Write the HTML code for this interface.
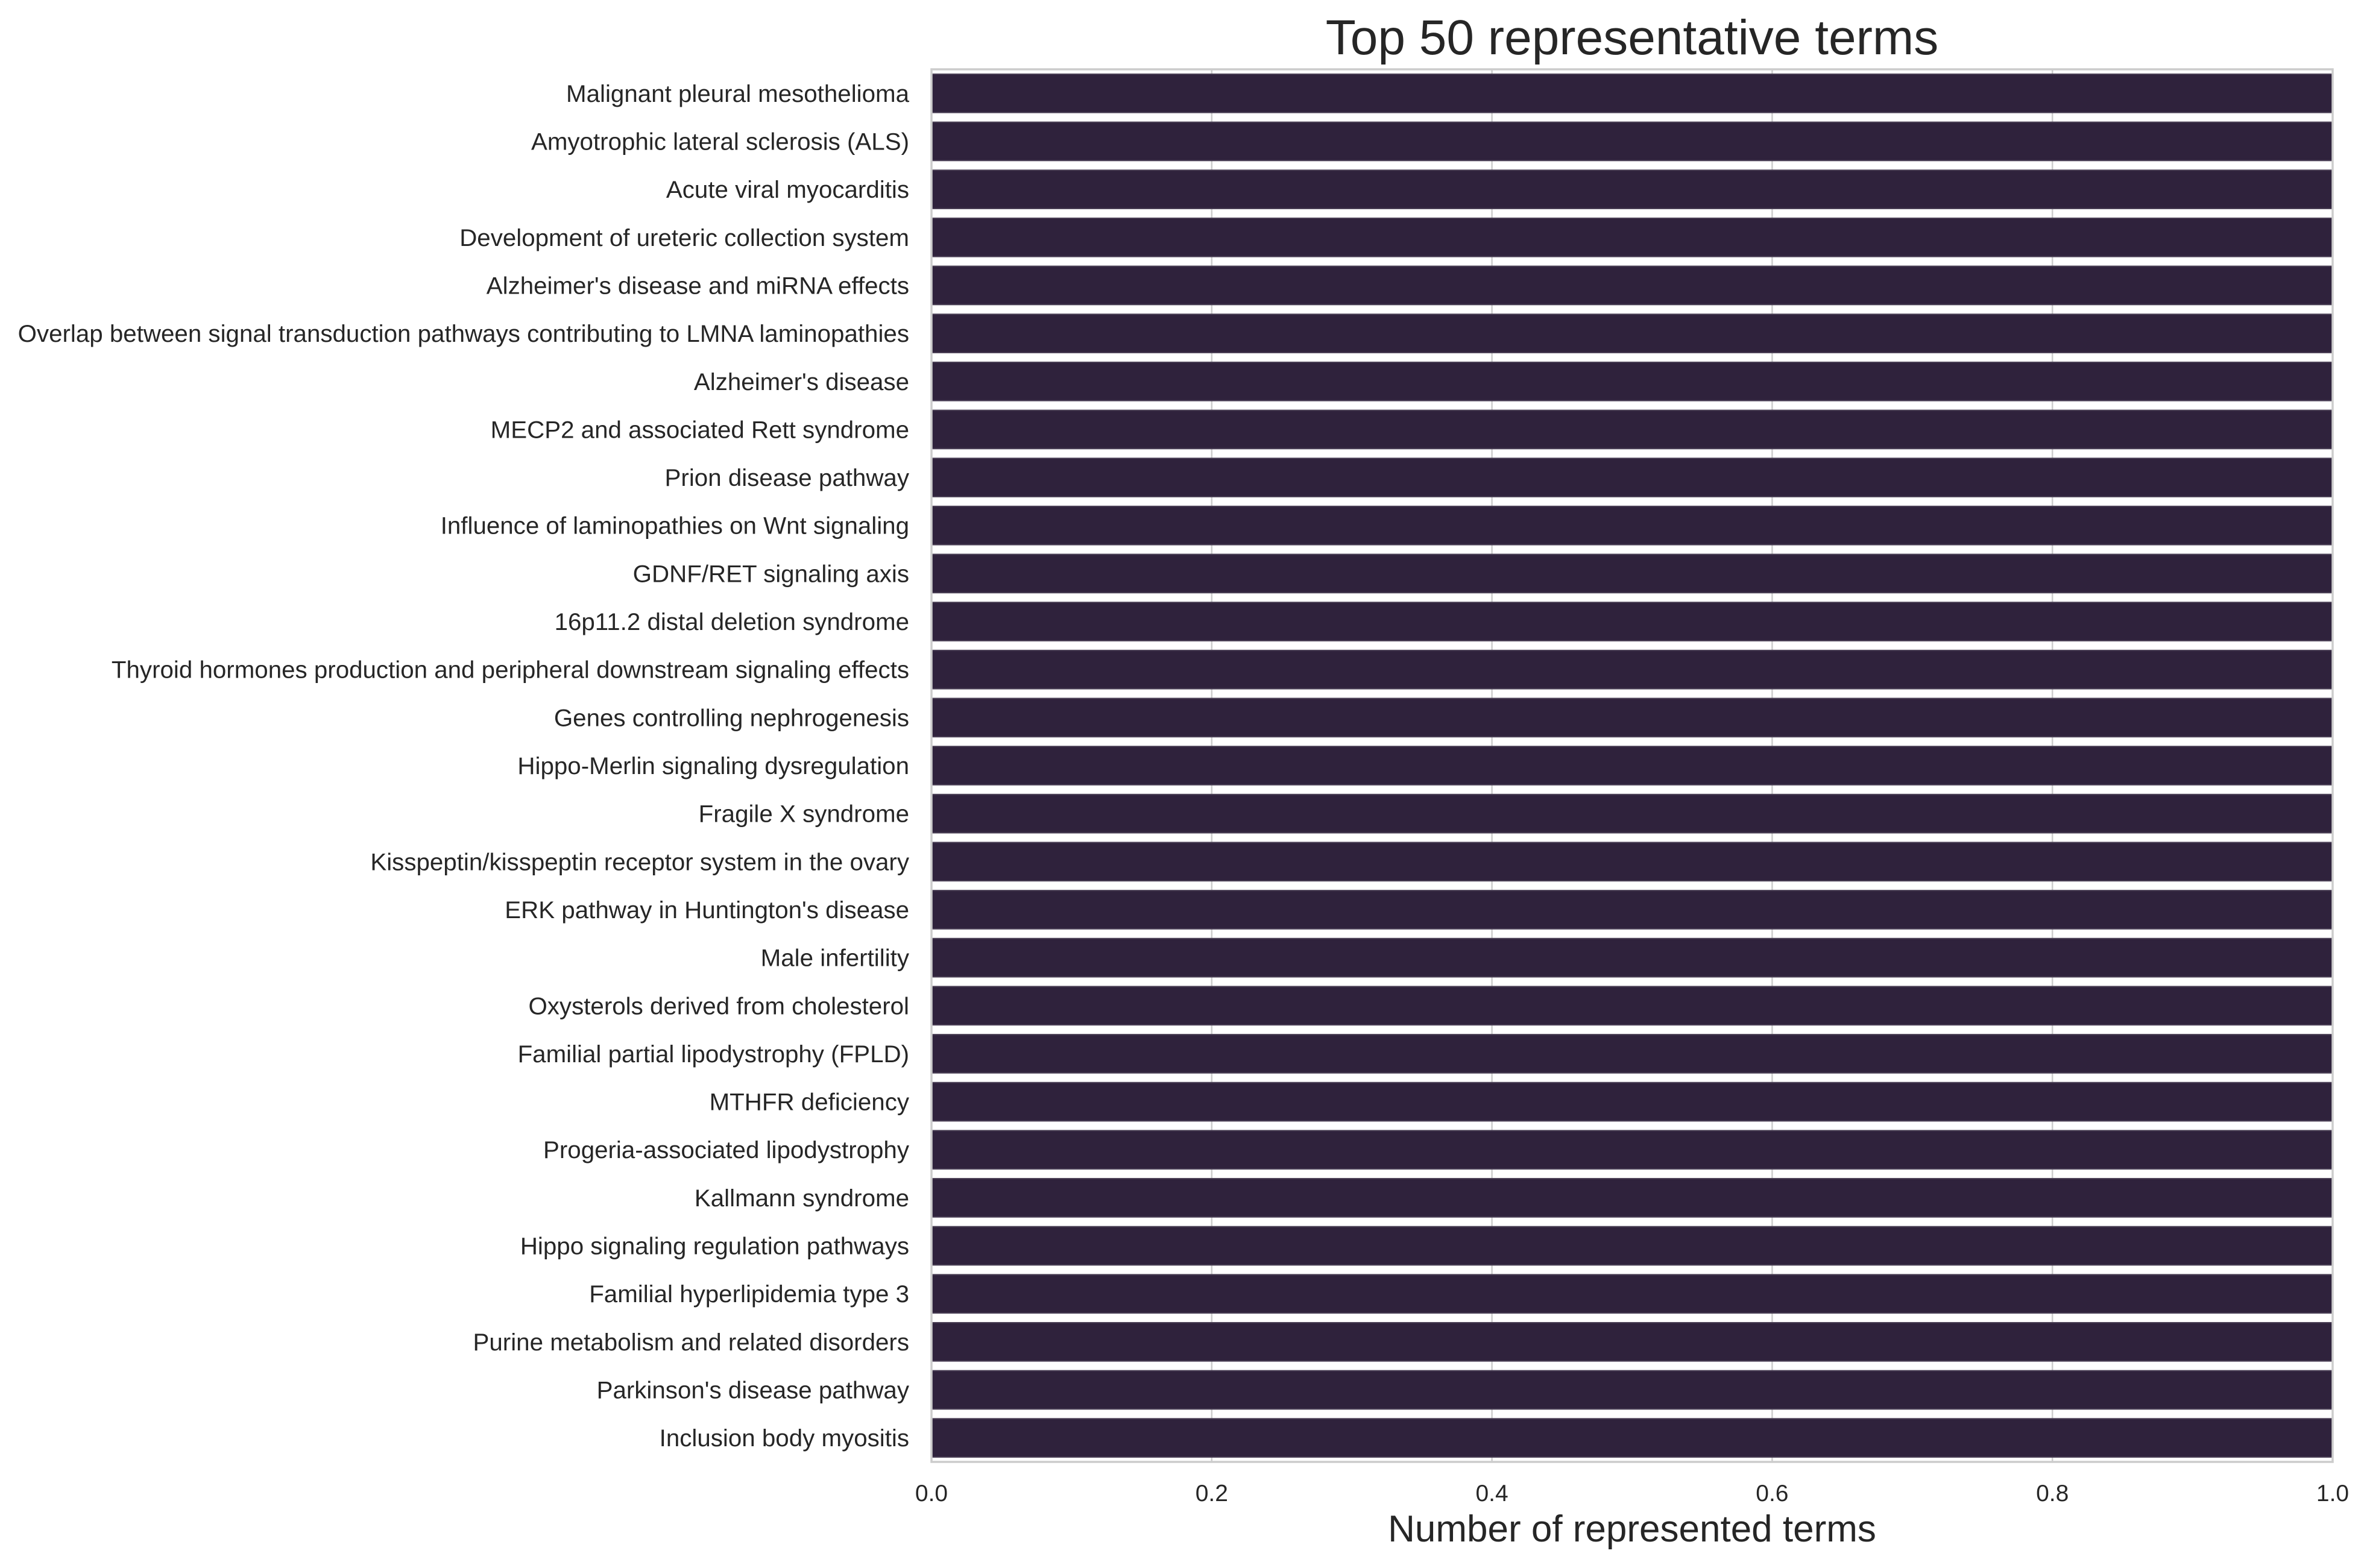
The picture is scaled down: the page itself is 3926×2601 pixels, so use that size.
<!DOCTYPE html>
<html><head><meta charset="utf-8"><style>
html,body{margin:0;padding:0;background:#fff;}
svg{display:block;font-family:"Liberation Sans",Arial,sans-serif;}
</style></head><body>
<svg id="chart" width="3926" height="2601" viewBox="0 0 3926 2601" xmlns="http://www.w3.org/2000/svg">
<rect x="0" y="0" width="3926" height="2601" fill="#fff"/>
<text x="2707" y="90" font-size="82" text-anchor="middle" fill="#262626">Top 50 representative terms</text>
<g id="grid"></g>
<g id="bars"></g>
<g id="ylabels"></g>
<g id="xticks"></g>
<rect x="1545" y="115" width="2324" height="2310" fill="none" stroke="#cccccc" stroke-width="3.5"/>
<text x="2707" y="2557" font-size="62" text-anchor="middle" fill="#262626">Number of represented terms</text>
</svg>
<script>
const categories = ["Malignant pleural mesothelioma","Amyotrophic lateral sclerosis (ALS)","Acute viral myocarditis","Development of ureteric collection system","Alzheimer's disease and miRNA effects","Overlap between signal transduction pathways contributing to LMNA laminopathies","Alzheimer's disease","MECP2 and associated Rett syndrome","Prion disease pathway","Influence of laminopathies on Wnt signaling","GDNF/RET signaling axis","16p11.2 distal deletion syndrome","Thyroid hormones production and peripheral downstream signaling effects","Genes controlling nephrogenesis","Hippo-Merlin signaling dysregulation","Fragile X syndrome","Kisspeptin/kisspeptin receptor system in the ovary","ERK pathway in Huntington's disease","Male infertility","Oxysterols derived from cholesterol","Familial partial lipodystrophy (FPLD)","MTHFR deficiency","Progeria-associated lipodystrophy","Kallmann syndrome","Hippo signaling regulation pathways","Familial hyperlipidemia type 3","Purine metabolism and related disorders","Parkinson's disease pathway","Inclusion body myositis"];
const values = [1,1,1,1,1,1,1,1,1,1,1,1,1,1,1,1,1,1,1,1,1,1,1,1,1,1,1,1,1];
const xTicks = [0,0.2,0.4,0.6,0.8,1.0];
const xTickLabels = ["0.0","0.2","0.4","0.6","0.8","1.0"];

const NS = "http://www.w3.org/2000/svg";
const L = 1545, R = 3869, T = 115, B = 2425;
const xMin = 0, xMax = 1;
function xs(v){ return L + (v - xMin) / (xMax - xMin) * (R - L); }
const band = (B - T) / categories.length;
function yc(i){ return T + band * (i + 0.5); }

const grid = document.getElementById('grid');
xTicks.forEach((t, i) => {
  const ln = document.createElementNS(NS, 'line');
  ln.setAttribute('x1', xs(t)); ln.setAttribute('x2', xs(t));
  ln.setAttribute('y1', T); ln.setAttribute('y2', B);
  ln.setAttribute('stroke', '#cccccc'); ln.setAttribute('stroke-width', '2.5');
  
  
  grid.appendChild(ln);
  const tx = document.createElementNS(NS, 'text');
  tx.setAttribute('x', xs(t)); tx.setAttribute('y', 2490);
  tx.setAttribute('font-size', '39'); tx.setAttribute('text-anchor', 'middle');
  tx.setAttribute('fill', '#262626');
  tx.textContent = xTickLabels[i];
  
  
  document.getElementById('xticks').appendChild(tx);
});

const bars = document.getElementById('bars');
const yl = document.getElementById('ylabels');
const bh = band * 0.8;
categories.forEach((c, i) => {
  const r = document.createElementNS(NS, 'rect');
  r.setAttribute('x', xs(0));
  r.setAttribute('y', yc(i) - bh / 2);
  r.setAttribute('width', xs(values[i]) - xs(0));
  r.setAttribute('height', bh);
  r.setAttribute('fill', '#2f223c');
  r.setAttribute('stroke', '#4a3f55'); r.setAttribute('stroke-width', '2');
  
  
  bars.appendChild(r);
  const t = document.createElementNS(NS, 'text');
  t.setAttribute('x', 1508);
  t.setAttribute('y', yc(i) + 14);
  t.setAttribute('font-size', '40.3');
  t.setAttribute('text-anchor', 'end');
  t.setAttribute('fill', '#262626');
  t.textContent = c;
  
  
  yl.appendChild(t);
});
</script>
</body></html>
